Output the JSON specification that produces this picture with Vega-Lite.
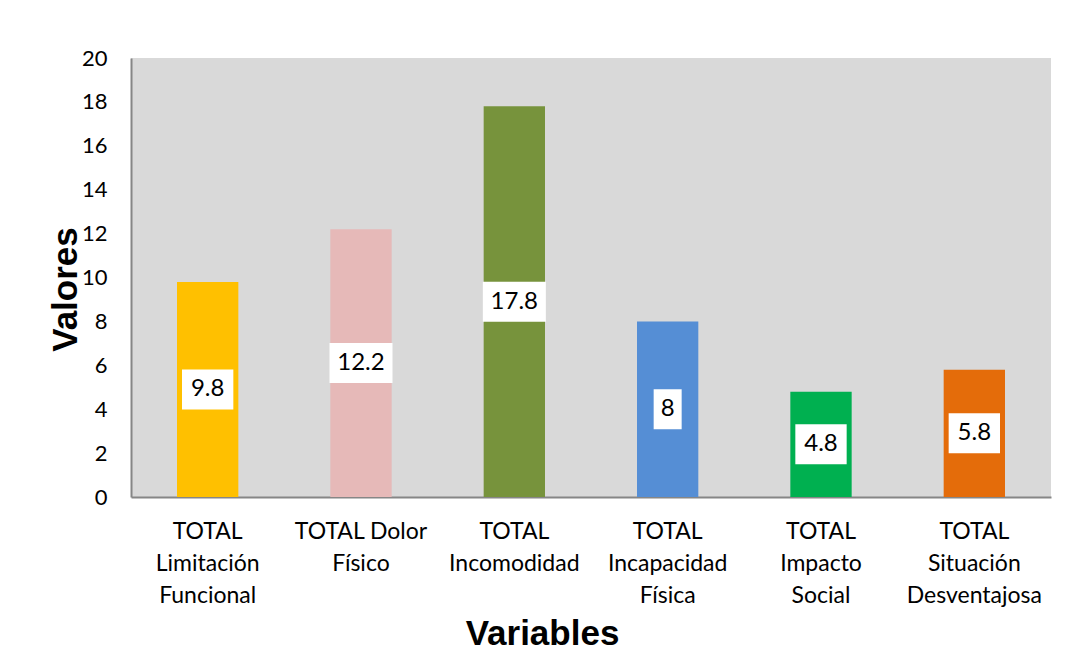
{
  "$schema": "https://vega.github.io/schema/vega-lite/v6.json",
  "width": 920,
  "height": 439,
  "autosize": {"type": "none"},
  "padding": {"left": 131, "top": 58, "right": 31, "bottom": 171},
  "background": "white",
  "config": {
    "view": {"fill": "#d9d9d9", "stroke": null},
    "font": "Lato"
  },
  "data": {
    "values": [
      {"variable": "TOTAL Limitación Funcional", "valor": 9.8, "color": "#FFC000"},
      {"variable": "TOTAL Dolor Físico", "valor": 12.2, "color": "#E6B9B8"},
      {"variable": "TOTAL Incomodidad", "valor": 17.8, "color": "#77933C"},
      {"variable": "TOTAL Incapacidad Física", "valor": 8, "color": "#558ED5"},
      {"variable": "TOTAL Impacto Social", "valor": 4.8, "color": "#00B050"},
      {"variable": "TOTAL Situación Desventajosa", "valor": 5.8, "color": "#E46C0A"}
    ]
  },
  "transform": [
    {"calculate": "datum.valor / 2", "as": "mitad"},
    {"calculate": "length(toString(datum.valor))", "as": "largo"}
  ],
  "encoding": {
    "x": {
      "field": "variable",
      "type": "nominal",
      "sort": null,
      "scale": {"paddingInner": 0.6, "paddingOuter": 0.3},
      "axis": {
        "title": "Variables",
        "titleFont": "Liberation Sans",
        "titleFontSize": 35,
        "titleFontWeight": "bold",
        "titleColor": "black",
        "titleX": 411,
        "titleY": 136,
        "titleBaseline": "middle",
        "labelAngle": 0,
        "labelFontSize": 23,
        "labelColor": "black",
        "labelPadding": 23,
        "labelLineHeight": 32,
        "labelBaseline": "top",
        "labelLimit": 300,
        "labelExpr": "datum.value == 'TOTAL Dolor Físico' ? ['TOTAL Dolor', 'Físico'] : split(datum.value, ' ')",
        "ticks": false,
        "domainColor": "#868686",
        "domainWidth": 2
      }
    }
  },
  "layer": [
    {
      "mark": {"type": "bar"},
      "encoding": {
        "y": {
          "field": "valor",
          "type": "quantitative",
          "scale": {"domain": [0, 20], "nice": false},
          "axis": {
            "title": "Valores",
            "titleFont": "Liberation Sans",
            "titleFontSize": 35,
            "titleFontWeight": "bold",
            "titleColor": "black",
            "titleX": -66,
            "titleY": 231,
            "titleAngle": -90,
            "titleAlign": "center",
            "titleBaseline": "middle",
            "values": [0, 2, 4, 6, 8, 10, 12, 14, 16, 18, 20],
            "labelFontSize": 22,
            "labelColor": "black",
            "labelPadding": 24,
            "ticks": false,
            "grid": false,
            "domainColor": "#868686",
            "domainWidth": 2
          }
        },
        "color": {"field": "color", "type": "nominal", "scale": null, "legend": null}
      }
    },
    {
      "mark": {"type": "tick", "thickness": 40, "color": "white", "opacity": 1},
      "encoding": {
        "y": {"field": "mitad", "type": "quantitative"},
        "size": {"field": "largo", "type": "quantitative", "scale": {"domain": [1, 4], "range": [28, 63]}, "legend": null}
      }
    },
    {
      "mark": {"type": "text", "fontSize": 24, "color": "black", "baseline": "middle", "align": "center"},
      "encoding": {
        "y": {"field": "mitad", "type": "quantitative"},
        "text": {"field": "valor", "type": "quantitative"}
      }
    }
  ]
}
